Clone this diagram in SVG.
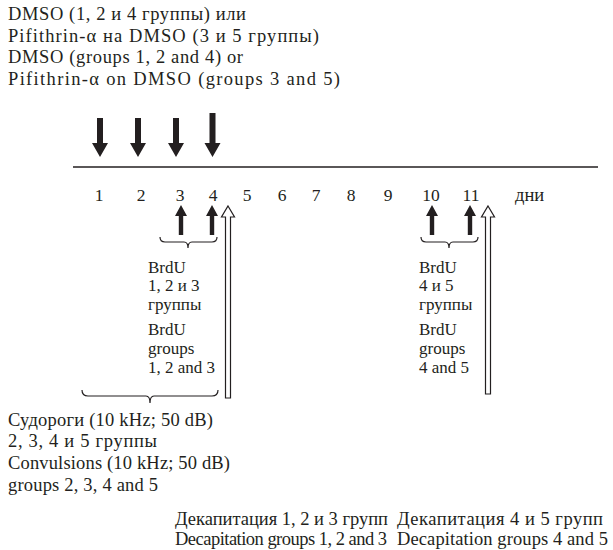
<svg xmlns="http://www.w3.org/2000/svg" width="613" height="550" viewBox="0 0 613 550">
<style>
text{font-family:"Liberation Serif","Times New Roman",serif;font-size:18.5px;fill:#231f20}
.sm{font-size:17px}
.solid{fill:#231f20;stroke:none}
.open{fill:#fff;stroke:#231f20;stroke-width:1.2}
.brace{fill:none;stroke:#231f20;stroke-width:1.2}
.axis{stroke:#231f20;stroke-width:1.5}
.num{text-anchor:middle;font-size:17.5px}
</style>
<rect width="613" height="550" fill="#fff"/>
<g id="header">
<text x="8" y="20" textLength="238" lengthAdjust="spacing">DMSO (1, 2 и 4 группы) или</text>
<text x="8" y="42" textLength="311" lengthAdjust="spacing">Pifithrin-α на DMSO (3 и 5 группы)</text>
<text x="8" y="63" textLength="235" lengthAdjust="spacing">DMSO (groups 1, 2 and 4) or</text>
<text x="8" y="85" textLength="332" lengthAdjust="spacing">Pifithrin-α on DMSO (groups 3 and 5)</text>
</g>
<g id="connectors">
<path class="solid" d="M97,118 H103 V143 H108 L100,157 L92,143 H97 Z"/>
<path class="solid" d="M135,118 H141 V143 H146 L138,157 L130,143 H135 Z"/>
<path class="solid" d="M173,118 H179 V143 H184 L176,157 L168,143 H173 Z"/>
<path class="solid" d="M209.5,113 H215.5 V143 H220.5 L212.5,157 L204.5,143 H209.5 Z"/>
<line class="axis" x1="73" y1="167" x2="598" y2="167"/>
<path class="solid" d="M181,205 L187,216 H183.2 V235 H178.8 V216 H175 Z"/>
<path class="solid" d="M212,205 L218,216 H214.2 V235 H209.8 V216 H206 Z"/>
<path class="solid" d="M432,205 L438,216 H434.2 V235 H429.8 V216 H426 Z"/>
<path class="solid" d="M470,205 L476,216 H472.2 V235 H467.8 V216 H464 Z"/>
<path class="open" d="M228,206 L234.5,217 H230.5 V398 H225.5 V217 H221.5 Z"/>
<path class="open" d="M488,206 L494.5,217 H490.5 V394 H485.5 V217 H481.5 Z"/>
<path class="brace" d="M160,237 Q160,242 165,242 H184 Q188,242 188,248 Q188,242 192,242 H212 Q217,242 217,237"/>
<path class="brace" d="M421,237 Q421,242 426,242 H445 Q449,242 449,248 Q449,242 453,242 H473 Q478,242 478,237"/>
<path class="brace" d="M82,390 Q82,396 88,396 H146 Q150,396 150,403 Q150,396 154,396 H212 Q218,396 218,390"/>
</g>
<g id="days">
<text class="num" x="99" y="201">1</text>
<text class="num" x="141" y="201">2</text>
<text class="num" x="180" y="201">3</text>
<text class="num" x="213" y="201">4</text>
<text class="num" x="247" y="201">5</text>
<text class="num" x="282" y="201">6</text>
<text class="num" x="316" y="201">7</text>
<text class="num" x="351" y="201">8</text>
<text class="num" x="388" y="201">9</text>
<text class="num" x="431" y="201">10</text>
<text class="num" x="471" y="201">11</text>
<text x="515" y="201">дни</text>
</g>
<g id="brdu-left">
<text class="sm" x="148" y="273">BrdU</text>
<text class="sm" x="148" y="291">1, 2 и 3</text>
<text class="sm" x="148" y="310">группы</text>
<text class="sm" x="148" y="335">BrdU</text>
<text class="sm" x="148" y="354">groups</text>
<text class="sm" x="148" y="373">1, 2 and 3</text>
</g>
<g id="brdu-right">
<text class="sm" x="419" y="273">BrdU</text>
<text class="sm" x="419" y="291">4 и 5</text>
<text class="sm" x="419" y="310">группы</text>
<text class="sm" x="419" y="335">BrdU</text>
<text class="sm" x="419" y="354">groups</text>
<text class="sm" x="419" y="373">4 and 5</text>
</g>
<g id="convulsions">
<text x="8" y="426" textLength="205" lengthAdjust="spacing">Судороги (10 kHz; 50 dB)</text>
<text x="8" y="447" textLength="149" lengthAdjust="spacing">2, 3, 4 и 5 группы</text>
<text x="8" y="469" textLength="222" lengthAdjust="spacing">Convulsions (10 kHz; 50 dB)</text>
<text x="8" y="491" textLength="150" lengthAdjust="spacing">groups 2, 3, 4 and 5</text>
</g>
<g id="decap-1">
<text x="175" y="525" textLength="213" lengthAdjust="spacing">Декапитация 1, 2 и 3 групп</text>
<text x="175" y="545" textLength="212" lengthAdjust="spacing">Decapitation groups 1, 2 and 3</text>
</g>
<g id="decap-2">
<text x="397" y="525" textLength="206" lengthAdjust="spacing">Декапитация 4 и 5 групп</text>
<text x="397" y="545" textLength="211" lengthAdjust="spacing">Decapitation groups 4 and 5</text>
</g>
</svg>
